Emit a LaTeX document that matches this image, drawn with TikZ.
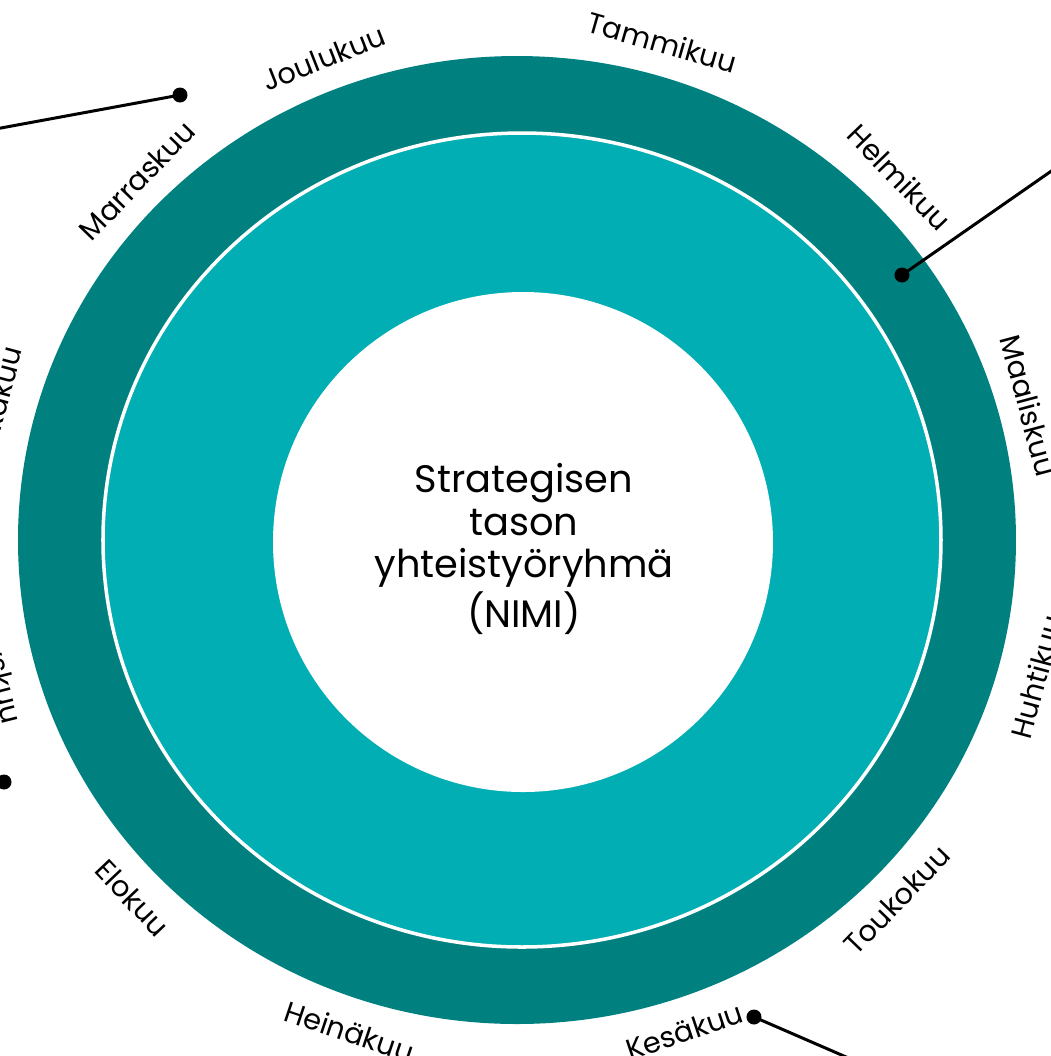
\documentclass[tikz,border=0pt]{standalone}
\usepackage{fontspec}
\setmainfont{Poppins}
\usepackage{tikz}
\usetikzlibrary{positioning}
\definecolor{tealdark}{RGB}{0,129,128}
\definecolor{teallight}{RGB}{0,174,179}

\begin{document}
\begin{tikzpicture}[x=0.01cm, y=-0.01cm,
	month/.style={font=\fontsize{8.2}{10}\selectfont, inner sep=0pt},
	pin/.style={circle, fill=black, inner sep=0pt, minimum size=0.15cm},
	lead/.style={line width=0.85pt}]
	\useasboundingbox (0,0) rectangle (1051,1056);
	% rings
	\filldraw[fill=tealdark, draw=none] (517,540) ellipse [x radius=499, y radius=484];
	\filldraw[fill=teallight, draw=white, line width=1pt] (522,540) ellipse [x radius=419, y radius=407];
	\filldraw[fill=white, draw=none] (523,542) circle [radius=250];
	\node[align=center, font=\fontsize{10.9}{12.1}\selectfont] (title) at (524,549) {Strategisen\\tason\\yhteisty\"oryhm\"a\\(NIMI)};
	% months round the ring
	\foreach \a/\t/\d [count=\i] in {74/Tammikuu/528,44/Helmikuu/532,15/Maaliskuu/530,-15/Huhtikuu/538,-44/Toukokuu/528,
		-71.5/Kes\"akuu/528,-108.5/Hein\"akuu/528,-136.5/Elokuu/530,-166/Syyskuu/537,165/Lokakuu/538,136/Marraskuu/528,111.5/Joulukuu/528}
	{
		\pgfmathsetmacro\r{\a>0 ? \a-90 : \a+90}
		\pgfmathsetmacro\px{517+\d*cos(\a)}
		\pgfmathsetmacro\py{540-(\d-10)*sin(\a)}
		\node[month, rotate=\r] (month\i) at (\px,\py) {\t};
	}
	% pins
	\node[pin] (pinmar) at (180,95) {};
	\coordinate (endmar) at (-10,130);
	\draw[lead] (endmar) -- (pinmar.center);
	\node[pin] (pinhel) at (902,275) {};
	\coordinate (endhel) at (1060,165);
	\draw[lead] (pinhel.center) -- (endhel);
	\node[pin] (pinkes) at (754,1017) {};
	\coordinate (endkes) at (860,1063);
	\draw[lead] (pinkes.center) -- (endkes);
	\node[pin] (pinsyy) at (4,782) {};
\end{tikzpicture}
\end{document}
